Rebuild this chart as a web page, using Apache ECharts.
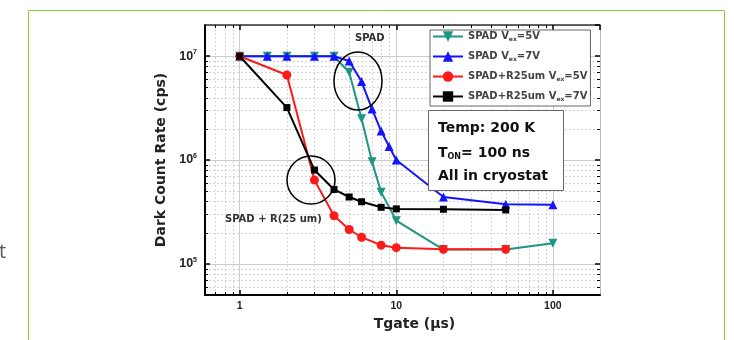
<!DOCTYPE html>
<html><head><meta charset="utf-8">
<script src="https://cdn.jsdelivr.net/npm/echarts@6/dist/echarts.min.js"></script>
<style>html,body{margin:0;padding:0;background:#fff;overflow:hidden}#c{width:734px;height:340px}</style>
</head><body><div id="c"></div>
<script>
// ---- data ----
const seriesNames = ['SPAD Vex=5V', 'SPAD Vex=7V', 'SPAD+R25um Vex=5V', 'SPAD+R25um Vex=7V'];
const legendLabels = ['SPAD V{sub|ex}=5V', 'SPAD V{sub|ex}=7V', 'SPAD+R25um V{sub|ex}=5V', 'SPAD+R25um V{sub|ex}=7V'];
const spad5X = [1, 1.5, 2, 3, 4, 5, 6, 7, 8, 10, 20, 50, 100];
const spad5Y = [1e7, 1e7, 1e7, 1e7, 1e7, 7e6, 2.5e6, 9.6e5, 4.9e5, 2.6e5, 1.37e5, 1.37e5, 1.58e5];
const spad7X = [1, 1.5, 2, 3, 4, 5, 6, 7, 8, 9, 10, 20, 50, 100];
const spad7Y = [1e7, 1e7, 1e7, 1e7, 1e7, 9e6, 5.7e6, 3.1e6, 1.9e6, 1.35e6, 1e6, 4.4e5, 3.75e5, 3.7e5];
const r5X = [1, 2, 3, 4, 5, 6, 8, 10, 20, 50];
const r5Y = [1e7, 6.6e6, 6.4e5, 2.9e5, 2.14e5, 1.8e5, 1.51e5, 1.43e5, 1.38e5, 1.38e5];
const r7X = [1, 2, 3, 4, 5, 6, 8, 10, 20, 50];
const r7Y = [1e7, 3.2e6, 8e5, 5.2e5, 4.4e5, 3.96e5, 3.5e5, 3.38e5, 3.35e5, 3.3e5];
const xTickLabels = ['1', '10', '100'];       // decades 10^0,10^1,10^2
const yTickExponents = [5, 6, 7];
const xMinor = [0.7, 0.8, 0.9, 2, 3, 4, 5, 6, 7, 8, 9, 20, 30, 40, 50, 60, 70, 80, 90];
const yMinor = [6e4, 7e4, 8e4, 9e4, 2e5, 3e5, 4e5, 5e5, 6e5, 7e5, 8e5, 9e5, 2e6, 3e6, 4e6, 5e6, 6e6, 7e6, 8e6, 9e6];
const infoLines = ['Temp: 200 K', 'T{sub|ON}= 100 ns', 'All in cryostat'];

const colors = ['#1f9584', '#1414ff', '#ff1a1a', '#000000'];
const symbols = ['triangle', 'triangle', 'circle', 'rect'];
const symRot = [180, 0, 0, 0];
const xs = [spad5X, spad7X, r5X, r7X];
const ys = [spad5Y, spad7Y, r5Y, r7Y];

const zip = (a, b) => a.map((v, i) => [v, b[i]]);
const FONT = '"Liberation Sans", Arial, sans-serif';
const WIDE = '"DejaVu Sans", Verdana, sans-serif';

const chart = echarts.init(document.getElementById('c'), null, {renderer: 'canvas'});

function minorXItem(params, api) {
  const cs = params.coordSys;
  const x = Math.round(api.coord([api.value(0), 1e6])[0]) + 0.5;
  const b = cs.y + cs.height, t = cs.y;
  return {type: 'group', children: [
    {type: 'line', shape: {x1: x, y1: t, x2: x, y2: b}, style: {stroke: '#d4d4d4', lineWidth: 1, lineDash: [2, 2]}},
    {type: 'line', shape: {x1: x, y1: b, x2: x, y2: b - 3}, style: {stroke: '#000', lineWidth: 1}},
    {type: 'line', shape: {x1: x, y1: t, x2: x, y2: t + 3}, style: {stroke: '#000', lineWidth: 1}}
  ]};
}
function minorYItem(params, api) {
  const cs = params.coordSys;
  const y = Math.round(api.coord([1, api.value(1)])[1]) + 0.5;
  const l = cs.x, r = cs.x + cs.width;
  return {type: 'group', children: [
    {type: 'line', shape: {x1: l, y1: y, x2: r, y2: y}, style: {stroke: '#d4d4d4', lineWidth: 1, lineDash: [2, 2]}},
    {type: 'line', shape: {x1: l, y1: y, x2: l + 3, y2: y}, style: {stroke: '#000', lineWidth: 1}},
    {type: 'line', shape: {x1: r, y1: y, x2: r - 3, y2: y}, style: {stroke: '#000', lineWidth: 1}}
  ]};
}

const common = {type: 'log', logBase: 10};
const option = {
  animation: false,
  backgroundColor: '#fff',
  textStyle: {fontFamily: FONT},
  grid: {left: 205, top: 25, right: 134, bottom: 45, containLabel: false},
  legend: {
    data: seriesNames,
    orient: 'vertical',
    left: 430, top: 30, z: 60,
    padding: [0, 3, 3, 2],
    itemWidth: 30, itemHeight: 13, itemGap: 7,
    backgroundColor: '#fff', borderColor: '#666', borderWidth: 1,
    formatter: name => legendLabels[seriesNames.indexOf(name)],
    textStyle: {
      fontFamily: WIDE, fontSize: 10, fontWeight: 'bold', color: '#444', lineHeight: 13,
      rich: {sub: {fontFamily: WIDE, fontSize: 6, fontWeight: 'bold', color: '#444', padding: [6, 0, 0, 0]}}
    }
  },
  xAxis: [
    Object.assign({}, common, {
      min: 0.6, max: 200, position: 'bottom',
      name: 'Tgate (\u00b5s)', nameLocation: 'middle', nameGap: 22,
      nameTextStyle: {fontFamily: WIDE, fontSize: 14, fontWeight: 'bold', color: '#222', padding: [0, 0, 0, 24]},
      axisLine: {show: true, lineStyle: {color: '#000', width: 2}},
      axisTick: {show: true, inside: true, length: 5, lineStyle: {color: '#000', width: 1.5}},
      axisLabel: {
        show: true, margin: 6, showMinLabel: false, showMaxLabel: false,
        fontFamily: FONT, fontSize: 10.5, fontWeight: 'bold', color: '#222',
        formatter: v => { const e = Math.round(Math.log10(v)); return (Math.abs(Math.log10(v) - e) < 1e-6 && xTickLabels[e]) ? xTickLabels[e] : ''; }
      },
      splitLine: {show: true, lineStyle: {color: '#cccccc', width: 1}}
    }),
    Object.assign({}, common, {
      min: 0.6, max: 200, position: 'top',
      axisLine: {show: true, lineStyle: {color: '#333', width: 1.5}},
      axisTick: {show: true, inside: true, length: 5, lineStyle: {color: '#000', width: 1.5}},
      axisLabel: {show: false}, splitLine: {show: false}
    })
  ],
  yAxis: [
    Object.assign({}, common, {
      min: 5e4, max: 2e7, position: 'left',
      name: 'Dark Count Rate (cps)', nameLocation: 'middle', nameGap: 30,
      nameTextStyle: {fontFamily: WIDE, fontSize: 14, fontWeight: 'bold', color: '#222'},
      axisLine: {show: true, lineStyle: {color: '#000', width: 2}},
      axisTick: {show: true, inside: true, length: 5, lineStyle: {color: '#000', width: 1.5}},
      axisLabel: {
        show: true, margin: 8, showMinLabel: false, showMaxLabel: false,
        fontFamily: FONT, fontSize: 12.5, fontWeight: 'bold', color: '#222',
        formatter: v => { const e = Math.round(Math.log10(v)); return (Math.abs(Math.log10(v) - e) < 1e-6 && yTickExponents.includes(e)) ? '10{sup|' + e + '}' : ''; },
        rich: {sup: {fontSize: 7, fontWeight: 'bold', color: '#222', padding: [0, 0, 8, 0]}}
      },
      splitLine: {show: true, lineStyle: {color: '#cccccc', width: 1}}
    }),
    Object.assign({}, common, {
      min: 5e4, max: 2e7, position: 'right',
      axisLine: {show: true, lineStyle: {color: '#bbb', width: 1}},
      axisTick: {show: true, inside: true, length: 5, lineStyle: {color: '#000', width: 1.5}},
      axisLabel: {show: false}, splitLine: {show: false}
    })
  ],
  series: [
    {type: 'custom', name: 'minorX', silent: true, z: 1, xAxisIndex: 0, yAxisIndex: 0,
     renderItem: minorXItem, data: xMinor.map(v => [v, 1e6])},
    {type: 'custom', name: 'minorY', silent: true, z: 1, xAxisIndex: 0, yAxisIndex: 0,
     renderItem: minorYItem, data: yMinor.map(v => [1, v])}
  ].concat(seriesNames.map((n, i) => ({
    type: 'line', name: n, xAxisIndex: 0, yAxisIndex: 0, z: 3 + i,
    data: zip(xs[i], ys[i]),
    symbol: symbols[i], symbolRotate: symRot[i],
    symbolSize: i === 3 ? 7 : 9,
    lineStyle: {color: colors[i], width: 2},
    itemStyle: {color: colors[i]},
    emphasis: {disabled: true}
  }))),
  graphic: [
    {type: 'rect', silent: true, z: 0, shape: {x: 28.5, y: 10.5, width: 696, height: 400},
     style: {fill: 'none', stroke: '#8dc63f', lineWidth: 1}},
    {type: 'text', silent: true, x: -1, y: 262, style: {text: 't', font: '20px "Open Sans", sans-serif', fill: '#555', verticalAlign: 'bottom'}},
    {type: 'rect', z: 50, silent: true, shape: {x: 428.5, y: 110.5, width: 135, height: 80}, style: {fill: '#fff', stroke: '#666', lineWidth: 1}},
    {type: 'text', z: 51, silent: true, x: 438, y: 128, style: {text: infoLines[0], font: 'bold 14px ' + WIDE, fill: '#111', verticalAlign: 'middle'}},
    {type: 'text', z: 51, silent: true, x: 438, y: 153, style: {text: infoLines[1], font: 'bold 14px ' + WIDE, fill: '#111', verticalAlign: 'middle',
      rich: {sub: {font: 'bold 8px ' + WIDE, fill: '#111', padding: [8, 0, 0, 0]}}}},
    {type: 'text', z: 51, silent: true, x: 438, y: 176, style: {text: infoLines[2], font: 'bold 14px ' + WIDE, fill: '#111', verticalAlign: 'middle'}},
    {type: 'ellipse', z: 40, silent: true, shape: {cx: 358, cy: 81, rx: 24, ry: 29}, style: {fill: 'none', stroke: '#000', lineWidth: 1.5}},
    {type: 'circle', z: 40, silent: true, shape: {cx: 311, cy: 180, r: 24}, style: {fill: 'none', stroke: '#000', lineWidth: 1.5}},
    {type: 'text', z: 40, silent: true, x: 355, y: 38, style: {text: 'SPAD', font: 'bold 10px ' + WIDE, fill: '#333', verticalAlign: 'middle'}},
    {type: 'text', z: 40, silent: true, x: 225, y: 219, style: {text: 'SPAD + R(25 um)', font: 'bold 10px ' + WIDE, fill: '#333', verticalAlign: 'middle'}}
  ]
};
chart.setOption(option);
</script>
</body></html>
